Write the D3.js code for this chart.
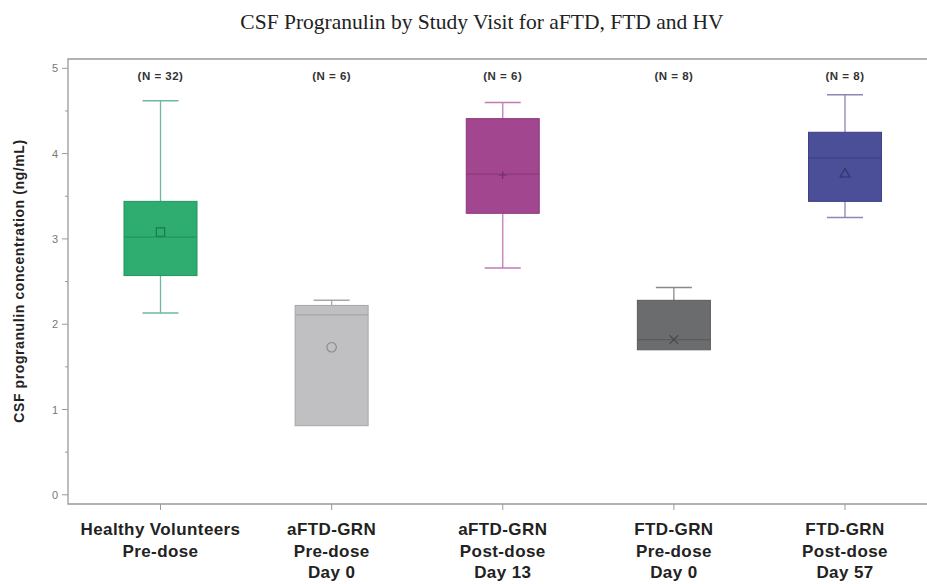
<!DOCTYPE html>
<html>
<head>
<meta charset="utf-8">
<script src="https://cdn.jsdelivr.net/npm/d3@7"></script>
<style>
  body { margin: 0; background: #fff; }
  svg { display: block; }
</style>
</head>
<body>
<svg id="chart" width="927" height="584"></svg>
<script>
// groups shown along the x axis (two or three lines each)
var groups = [
    ['Healthy Volunteers', 'Pre-dose'],
    ['aFTD-GRN', 'Pre-dose', 'Day 0'],
    ['aFTD-GRN', 'Post-dose', 'Day 13'],
    ['FTD-GRN', 'Pre-dose', 'Day 0'],
    ['FTD-GRN', 'Post-dose', 'Day 57']
];
var nCounts = [32, 6, 6, 8, 8];
// box statistics (ng/mL)
var whiskerLow = [2.13, 0.81, 2.66, 1.70, 3.25];
var q1 = [2.57, 0.81, 3.30, 1.70, 3.44];
var median = [3.02, 2.11, 3.76, 1.82, 3.95];
var q3 = [3.44, 2.22, 4.41, 2.28, 4.25];
var whiskerHigh = [4.62, 2.28, 4.60, 2.43, 4.69];
var means = [3.08, 1.73, 3.75, 1.82, 3.76];
var meanSymbols = ['square', 'circle', 'plus', 'x', 'triangle'];
var yTicks = [0, 1, 2, 3, 4, 5];

var fills = ['#2fac6f', '#c0c0c2', '#a1468f', '#6b6c6e', '#4b4f97'];
var strokes = ['#6fb89a', '#a8a8aa', '#c07ab5', '#8a8a8c', '#8a86b6'];
var edge = ['#23945c', '#a6a6a8', '#8c3a7c', '#5a5b5d', '#3d4186'];

var svg = d3.select('#chart');
var margin = { left: 68, top: 59, bottom: 504 };
var width = 927;

var x = d3.scalePoint()
    .domain(d3.range(groups.length))
    .range([160.5, 845]);

var y = d3.scaleLinear()
    .domain([0, 5])
    .range([494.8, 68.3]);

var boxW = 73, capW = 36;

// title
svg.append('text')
    .attr('x', 482)
    .attr('y', 29)
    .attr('text-anchor', 'middle')
    .style('font-family', '"Liberation Serif", "Times New Roman", serif')
    .style('font-size', '21.5px')
    .attr('fill', '#222')
    .text('CSF Progranulin by Study Visit for aFTD, FTD and HV');

// frame: left, top, bottom (runs off the right edge)
svg.append('path')
    .attr('d', 'M' + width + ',' + margin.top + 'H' + margin.left + 'V' + margin.bottom + 'H' + width)
    .attr('fill', 'none')
    .attr('stroke', '#9a9a9a')
    .attr('stroke-width', 1.3);

// y axis ticks + labels
var yAxis = svg.append('g');
yAxis.selectAll('line.major')
    .data(yTicks).enter()
    .append('line')
    .attr('x1', margin.left - 6).attr('x2', margin.left)
    .attr('y1', function (d) { return y(d); })
    .attr('y2', function (d) { return y(d); })
    .attr('stroke', '#9a9a9a');
yAxis.selectAll('line.minor')
    .data(yTicks.slice(0, -1)).enter()
    .append('line')
    .attr('x1', margin.left - 3).attr('x2', margin.left)
    .attr('y1', function (d) { return y(d + 0.5); })
    .attr('y2', function (d) { return y(d + 0.5); })
    .attr('stroke', '#9a9a9a');
yAxis.selectAll('text')
    .data(yTicks).enter()
    .append('text')
    .attr('x', margin.left - 10)
    .attr('y', function (d) { return y(d) + 4; })
    .attr('text-anchor', 'end')
    .style('font-family', '"Liberation Sans", Arial, sans-serif')
    .style('font-size', '11px')
    .attr('fill', '#777')
    .text(function (d) { return d; });

svg.append('text')
    .attr('transform', 'translate(24,281) rotate(-90)')
    .attr('text-anchor', 'middle')
    .style('font-family', '"Liberation Sans", Arial, sans-serif')
    .style('font-size', '14px')
    .style('font-weight', 'bold')
    .style('letter-spacing', '0.6px')
    .attr('fill', '#222')
    .text('CSF progranulin concentration (ng/mL)');

// x ticks + labels
var xAxis = svg.append('g');
xAxis.selectAll('line')
    .data(groups).enter()
    .append('line')
    .attr('x1', function (d, i) { return x(i); })
    .attr('x2', function (d, i) { return x(i); })
    .attr('y1', margin.bottom).attr('y2', margin.bottom + 6)
    .attr('stroke', '#9a9a9a');
var lab = xAxis.selectAll('text')
    .data(groups).enter()
    .append('text')
    .attr('text-anchor', 'middle')
    .style('font-family', '"Liberation Sans", Arial, sans-serif')
    .style('font-size', '17px')
    .style('font-weight', 'bold')
    .style('letter-spacing', '0.4px')
    .attr('fill', '#222');
lab.each(function (d, i) {
    var t = d3.select(this);
    d.forEach(function (line, k) {
        t.append('tspan')
            .attr('x', x(i))
            .attr('y', 535 + k * 21.5)
            .text(line);
    });
});

// N labels
svg.selectAll('text.n')
    .data(nCounts).enter()
    .append('text')
    .attr('class', 'n')
    .attr('x', function (d, i) { return x(i); })
    .attr('y', 80)
    .attr('text-anchor', 'middle')
    .style('font-family', '"Liberation Sans", Arial, sans-serif')
    .style('font-size', '11.5px')
    .style('font-weight', 'bold')
    .style('letter-spacing', '0.5px')
    .attr('fill', '#333')
    .text(function (d) { return '(N = ' + d + ')'; });

// boxes
var box = svg.selectAll('g.box')
    .data(groups).enter()
    .append('g')
    .attr('class', 'box');

box.append('line')
    .attr('x1', function (d, i) { return x(i); })
    .attr('x2', function (d, i) { return x(i); })
    .attr('y1', function (d, i) { return y(whiskerHigh[i]); })
    .attr('y2', function (d, i) { return y(q3[i]); })
    .attr('stroke', function (d, i) { return strokes[i]; })
    .attr('stroke-width', 1.3);
box.append('line')
    .attr('x1', function (d, i) { return x(i); })
    .attr('x2', function (d, i) { return x(i); })
    .attr('y1', function (d, i) { return y(whiskerLow[i]); })
    .attr('y2', function (d, i) { return y(q1[i]); })
    .attr('stroke', function (d, i) { return strokes[i]; })
    .attr('stroke-width', 1.3);
box.append('line')
    .attr('x1', function (d, i) { return x(i) - capW / 2; })
    .attr('x2', function (d, i) { return x(i) + capW / 2; })
    .attr('y1', function (d, i) { return y(whiskerHigh[i]); })
    .attr('y2', function (d, i) { return y(whiskerHigh[i]); })
    .attr('stroke', function (d, i) { return strokes[i]; })
    .attr('stroke-width', 1.5);
box.filter(function (d, i) { return whiskerLow[i] < q1[i]; })
    .append('line')
    .attr('x1', function (d) { var i = groups.indexOf(d); return x(i) - capW / 2; })
    .attr('x2', function (d) { var i = groups.indexOf(d); return x(i) + capW / 2; })
    .attr('y1', function (d) { return y(whiskerLow[groups.indexOf(d)]); })
    .attr('y2', function (d) { return y(whiskerLow[groups.indexOf(d)]); })
    .attr('stroke', function (d) { return strokes[groups.indexOf(d)]; })
    .attr('stroke-width', 1.5);

box.append('rect')
    .attr('x', function (d, i) { return x(i) - boxW / 2; })
    .attr('width', boxW)
    .attr('y', function (d, i) { return y(q3[i]); })
    .attr('height', function (d, i) { return y(q1[i]) - y(q3[i]); })
    .attr('fill', function (d, i) { return fills[i]; })
    .attr('stroke', function (d, i) { return edge[i]; })
    .attr('stroke-width', 1);

box.append('line')
    .attr('x1', function (d, i) { return x(i) - boxW / 2; })
    .attr('x2', function (d, i) { return x(i) + boxW / 2; })
    .attr('y1', function (d, i) { return y(median[i]); })
    .attr('y2', function (d, i) { return y(median[i]); })
    .attr('stroke', function (d, i) { return edge[i]; })
    .attr('stroke-width', 1.3);

var symType = {
    square: d3.symbolSquare, circle: d3.symbolCircle, plus: d3.symbolCross,
    x: d3.symbolTimes, triangle: d3.symbolTriangle2
};
box.append('path')
    .attr('transform', function (d, i) { return 'translate(' + x(i) + ',' + y(means[i]) + ')'; })
    .attr('d', function (d, i) {
        var s = meanSymbols[i];
        var size = s === 'x' ? 50 : 70;
        if (s === 'plus') {
            return 'M-4,0H4M0,-4V4';
        }
        return d3.symbol(symType[s], size)();
    })
    .attr('fill', 'none')
    .attr('stroke', function (d, i) { return d3.color(edge[i]).darker(0.6); })
    .attr('stroke-width', 1.1);
</script>
</body>
</html>
